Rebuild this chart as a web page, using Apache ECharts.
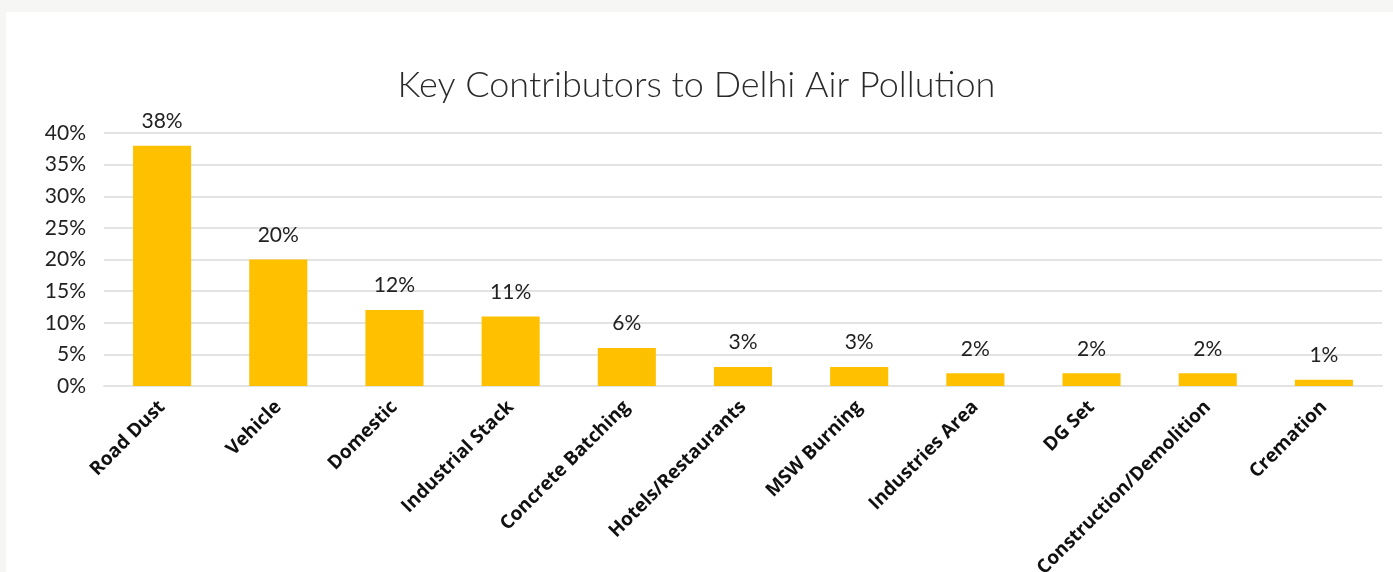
<!DOCTYPE html>
<html><head><meta charset="utf-8">
<script src="https://cdn.jsdelivr.net/npm/echarts@6/dist/echarts.min.js"></script>
<style>
html,body{margin:0;padding:0;background:#f6f7f5;}
#wrap{position:absolute;left:6px;top:12px;width:1387px;height:560px;background:#fff;}
#c{position:absolute;left:-6px;top:-12px;width:1393px;height:572px;}
</style></head>
<body><div id="wrap"><div id="c"></div></div>
<script>
const categories = ["Road Dust","Vehicle","Domestic","Industrial Stack","Concrete Batching","Hotels/Restaurants","MSW Burning","Industries Area","DG Set","Construction/Demolition","Cremation"];
const shares = [38,20,12,11,6,3,3,2,2,2,1];
const yTicks = {min:0,max:40,interval:5};
const chart = echarts.init(document.getElementById('c'));
chart.setOption({
  animation:false,
  backgroundColor:'transparent',
  title:{text:'Key Contributors to Delhi Air Pollution',left:'center',top:62,
    textStyle:{fontFamily:'Lato',fontWeight:300,fontSize:36,color:'#2a2a2a'}},
  grid:{left:104,right:11,top:133,bottom:186,containLabel:false,outerBoundsMode:'none'},
  xAxis:{type:'category',data:categories,
    axisLine:{lineStyle:{color:'#e3e3e3',width:2}},axisTick:{show:false},
    axisLabel:{rotate:45,interval:0,margin:18,fontFamily:'Open Sans',fontWeight:'bold',fontSize:19,color:'#111'}},
  yAxis:{type:'value',min:yTicks.min,max:yTicks.max,interval:yTicks.interval,
    axisLine:{show:false},axisTick:{show:false},
    splitLine:{lineStyle:{color:'#e3e3e3',width:2}},
    axisLabel:{formatter:'{value}%',fontFamily:'Lato',fontSize:21,color:'#222',margin:18}},
  series:[{type:'bar',data:shares,barWidth:'50%',itemStyle:{color:'#FFC000'},
    label:{show:true,position:'top',distance:14,formatter:'{c}%',fontFamily:'Lato',fontSize:21,color:'#222'}}]
});
</script></body></html>
